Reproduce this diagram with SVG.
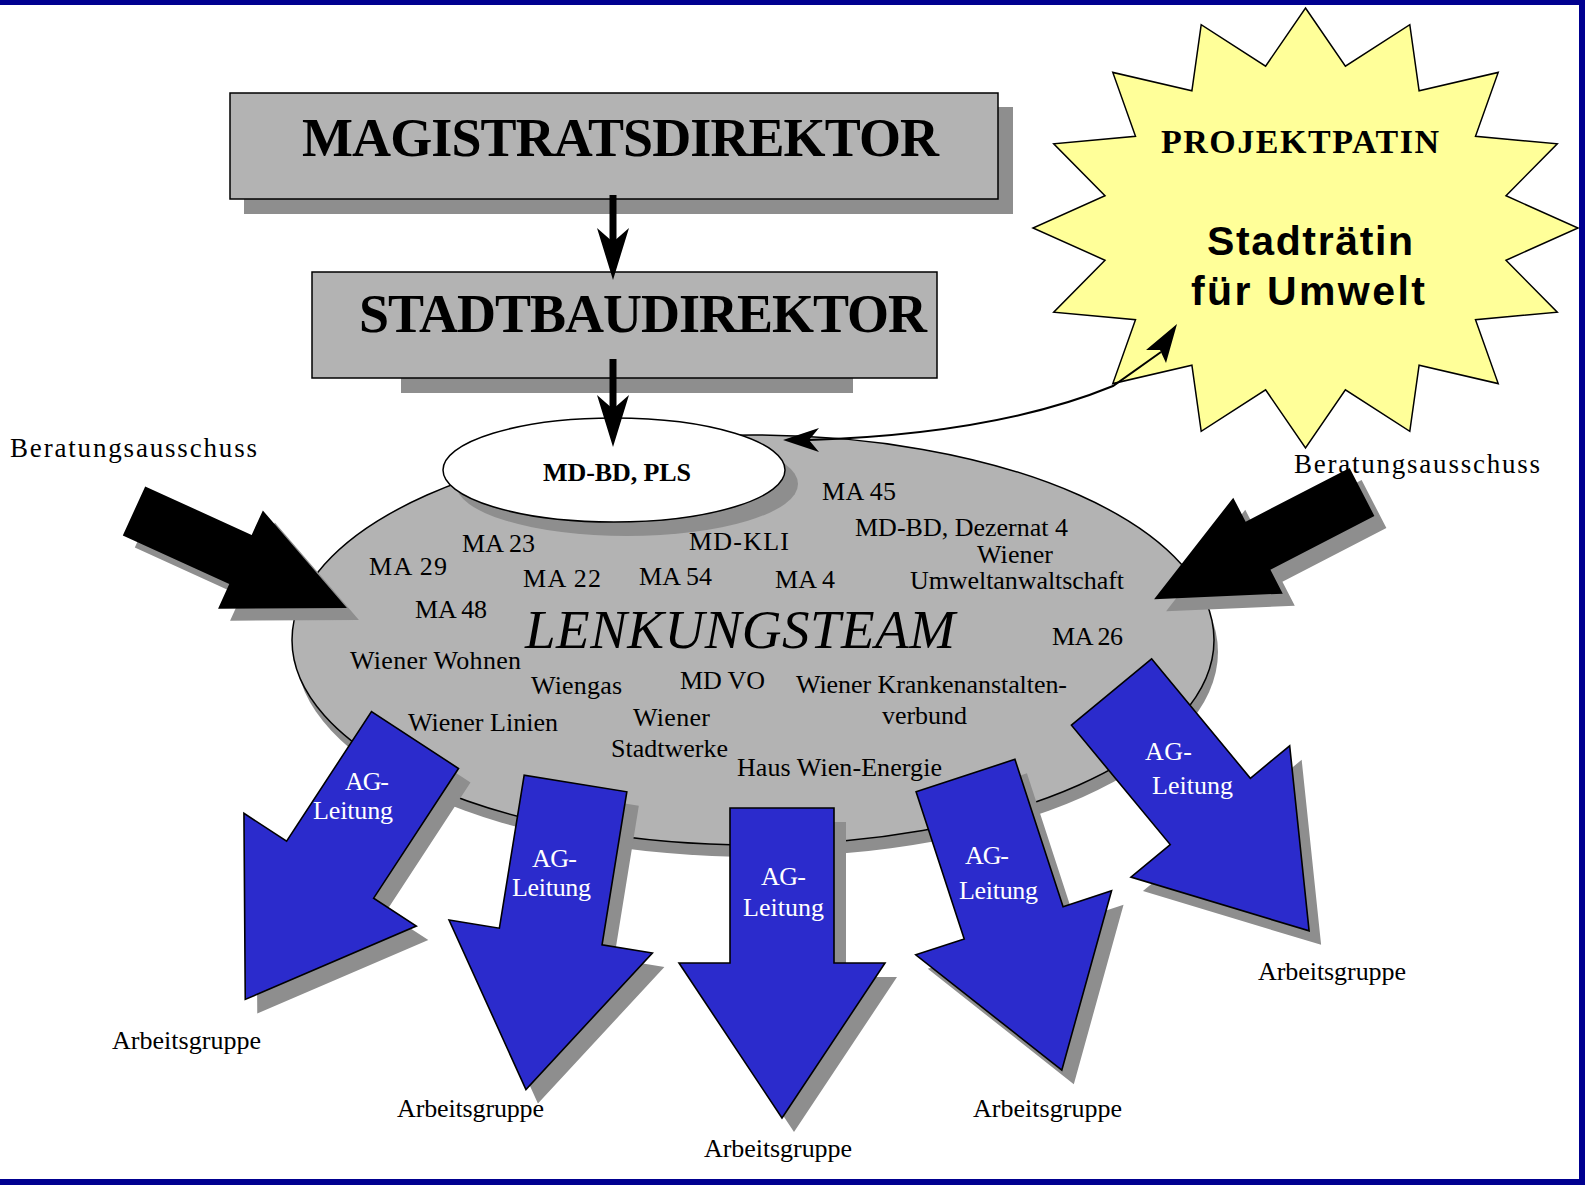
<svg xmlns="http://www.w3.org/2000/svg" xmlns:xlink="http://www.w3.org/1999/xlink" width="1585" height="1185" viewBox="0 0 1585 1185">
  <style>
    .serif { font-family: "Liberation Serif", "Times New Roman", serif; fill: #000; }
    .box { fill: #b3b3b3; stroke: #000; stroke-width: 1.5; }
    .shadow { fill: #8e8e8e; }
    .lbl { font-size: 26px; }
    .ag { fill: #2b2bcc; stroke: #000; stroke-width: 1.6; stroke-linejoin: miter; }
    .agt { font-family: "Liberation Serif", "Times New Roman", serif; font-size: 26px; fill: #fff; }
    .arb { font-size: 26px; }
    .blk { fill: #000; }
    .sans { font-family: "Liberation Sans", Arial, sans-serif; font-weight: bold; fill: #000; }
  </style>
  <defs>
    <path id="agShape" d="M0,-52 L155,-52 L155,-103 L310,0 L155,103 L155,52 L0,52 Z"/>
    <path id="baShape" d="M0,-27 L117,-27 L117,-54 L234,0 L117,54 L117,27 L0,27 Z"/>
  </defs>

  <!-- frame -->
  <rect x="0" y="0" width="1585" height="1185" fill="#000090"/>
  <rect x="0" y="5" width="1579" height="1174" fill="#ffffff"/>

  <!-- Projektpatin starburst -->
  <g id="projektpatin">
    <polygon fill="#ffff99" stroke="#000" stroke-width="1.5" points="1305.5,8 1345.4,66.2 1409.8,24.7 1419.1,90.8 1498.2,72.4 1475.5,136.3 1557.3,143.8 1506,195.8 1578,228 1506,260.2 1557.3,312.2 1475.5,319.7 1498.2,383.6 1419.1,365.2 1409.8,431.3 1345.4,389.8 1305.5,448 1265.6,389.8 1201.2,431.3 1191.9,365.2 1112.8,383.6 1135.5,319.7 1053.7,312.2 1105,260.2 1033,228 1105,195.8 1053.7,143.8 1135.5,136.3 1112.8,72.4 1191.9,90.8 1201.2,24.7 1265.6,66.2"/>
    <text class="serif" x="1161" y="153" font-size="34" font-weight="bold" textLength="278">PROJEKTPATIN</text>
    <text class="sans" x="1310" y="255" font-size="41" text-anchor="middle" textLength="206">Stadträtin</text>
    <text class="sans" x="1308" y="305" font-size="41" text-anchor="middle" textLength="234">für Umwelt</text>
  </g>

  <!-- Magistratsdirektor -->
  <g id="magistratsdirektor">
    <rect class="shadow" x="244" y="107" width="769" height="107"/>
    <rect class="box" x="230" y="93" width="768" height="106"/>
    <text class="serif" x="302" y="156" font-size="54" font-weight="bold" textLength="637">MAGISTRATSDIREKTOR</text>
  </g>

  <!-- Stadtbaudirektor -->
  <g id="stadtbaudirektor">
    <rect class="shadow" x="401" y="376" width="452" height="17"/>
    <rect class="box" x="312" y="272" width="625" height="106"/>
    <text class="serif" x="359" y="332" font-size="54" font-weight="bold" textLength="568">STADTBAUDIREKTOR</text>
  </g>

  <!-- Lenkungsteam -->
  <g id="lenkungsteam">
    <ellipse class="shadow" cx="757" cy="652" rx="461" ry="205"/>
    <ellipse cx="753" cy="640" rx="461" ry="205" fill="#b3b3b3" stroke="#000" stroke-width="1.5"/>
    <text class="serif" x="525" y="648" font-size="55" font-style="italic" textLength="430">LENKUNGSTEAM</text>
    <g class="serif lbl">
      <text x="822" y="500" textLength="74">MA 45</text>
      <text x="855" y="536" textLength="213">MD-BD, Dezernat 4</text>
      <text x="977" y="563" textLength="76">Wiener</text>
      <text x="910" y="589" textLength="214">Umweltanwaltschaft</text>
      <text x="462" y="552" textLength="73">MA 23</text>
      <text x="369" y="575" textLength="78">MA 29</text>
      <text x="523" y="587" textLength="78">MA 22</text>
      <text x="639" y="585" textLength="73">MA 54</text>
      <text x="689" y="550" textLength="100">MD-KLI</text>
      <text x="775" y="588" textLength="60">MA 4</text>
      <text x="415" y="618" textLength="72">MA 48</text>
      <text x="1052" y="645" textLength="71">MA 26</text>
      <text x="350" y="669" textLength="171">Wiener Wohnen</text>
      <text x="531" y="694" textLength="91">Wiengas</text>
      <text x="680" y="689" textLength="85">MD VO</text>
      <text x="796" y="693" textLength="271">Wiener Krankenanstalten-</text>
      <text x="882" y="724" textLength="85">verbund</text>
      <text x="408" y="731" textLength="150">Wiener Linien</text>
      <text x="633" y="726" textLength="77">Wiener</text>
      <text x="611" y="757" textLength="117">Stadtwerke</text>
      <text x="737" y="776" textLength="205">Haus Wien-Energie</text>
    </g>
  </g>

  <!-- MD-BD, PLS -->
  <g id="mdbd-pls">
    <ellipse class="shadow" cx="627" cy="484" rx="171" ry="52"/>
    <ellipse cx="614" cy="470" rx="171" ry="52" fill="#fff" stroke="#000" stroke-width="1.5"/>
    <text class="serif" x="543" y="481" font-size="26" font-weight="bold" textLength="148">MD-BD, PLS</text>
  </g>

  <!-- connectors -->
  <g id="connectors">
    <line x1="613" y1="195" x2="613" y2="244" stroke="#000" stroke-width="7"/>
    <path class="blk" d="M613,280 L597,228 L613,242 L629,228 Z"/>
    <line x1="613" y1="359" x2="613" y2="411" stroke="#000" stroke-width="7"/>
    <path class="blk" d="M613,447 L597,395 L613,409 L629,395 Z"/>
    <path d="M809,440 C930,436 1035,418 1113,386 L1161,352" fill="none" stroke="#000" stroke-width="2"/>
    <path class="blk" d="M783,440 L819,428 L809,440 L819,452 Z"/>
    <path class="blk" d="M1177,324 L1166,363 L1160,350 L1146,350 Z"/>
  </g>

  <!-- Beratungsausschuss -->
  <g id="beratung-links">
    <text class="serif" x="10" y="457" font-size="27" textLength="247">Beratungsausschuss</text>
    <use href="#baShape" class="shadow" transform="translate(146,523) rotate(24.5)"/>
    <use href="#baShape" class="blk" transform="translate(134,511) rotate(24.5)"/>
  </g>
  <g id="beratung-rechts">
    <text class="serif" x="1294" y="473" font-size="27" textLength="246">Beratungsausschuss</text>
    <use href="#baShape" class="shadow" transform="translate(1374,504) rotate(152.7)"/>
    <use href="#baShape" class="blk" transform="translate(1362,492) rotate(152.7)"/>
  </g>

  <!-- AG-Leitung arrows -->
  <g id="ag1">
    <use href="#agShape" class="shadow" transform="translate(427,754) rotate(123.2)"/>
    <use href="#agShape" class="ag" transform="translate(415,740) rotate(123.2)"/>
    <text class="agt" x="345" y="790" textLength="44">AG-</text>
    <text class="agt" x="313" y="819" textLength="80">Leitung</text>
    <text class="serif arb" x="112" y="1049" textLength="149">Arbeitsgruppe</text>
  </g>
  <g id="ag2">
    <use href="#agShape" class="shadow" transform="translate(587.5,797.5) rotate(99.2)"/>
    <use href="#agShape" class="ag" transform="translate(575.5,783.5) rotate(99.2)"/>
    <text class="agt" x="532" y="867" textLength="45">AG-</text>
    <text class="agt" x="512" y="896" textLength="79">Leitung</text>
    <text class="serif arb" x="397" y="1117" textLength="147">Arbeitsgruppe</text>
  </g>
  <g id="ag3">
    <use href="#agShape" class="shadow" transform="translate(794,822) rotate(90)"/>
    <use href="#agShape" class="ag" transform="translate(782,808) rotate(90)"/>
    <text class="agt" x="761" y="885" textLength="45">AG-</text>
    <text class="agt" x="743" y="916" textLength="81">Leitung</text>
    <text class="serif arb" x="704" y="1157" textLength="148">Arbeitsgruppe</text>
  </g>
  <g id="ag4">
    <use href="#agShape" class="shadow" transform="translate(977.5,789.5) rotate(71.9)"/>
    <use href="#agShape" class="ag" transform="translate(965.5,775.5) rotate(71.9)"/>
    <text class="agt" x="965" y="864" textLength="44">AG-</text>
    <text class="agt" x="959" y="899" textLength="79">Leitung</text>
    <text class="serif arb" x="973" y="1117" textLength="149">Arbeitsgruppe</text>
  </g>
  <g id="ag5">
    <use href="#agShape" class="shadow" transform="translate(1123.5,706) rotate(50.4)"/>
    <use href="#agShape" class="ag" transform="translate(1111.5,692) rotate(50.4)"/>
    <text class="agt" x="1145" y="760" textLength="47">AG-</text>
    <text class="agt" x="1152" y="794" textLength="81">Leitung</text>
    <text class="serif arb" x="1258" y="980" textLength="148">Arbeitsgruppe</text>
  </g>
</svg>
